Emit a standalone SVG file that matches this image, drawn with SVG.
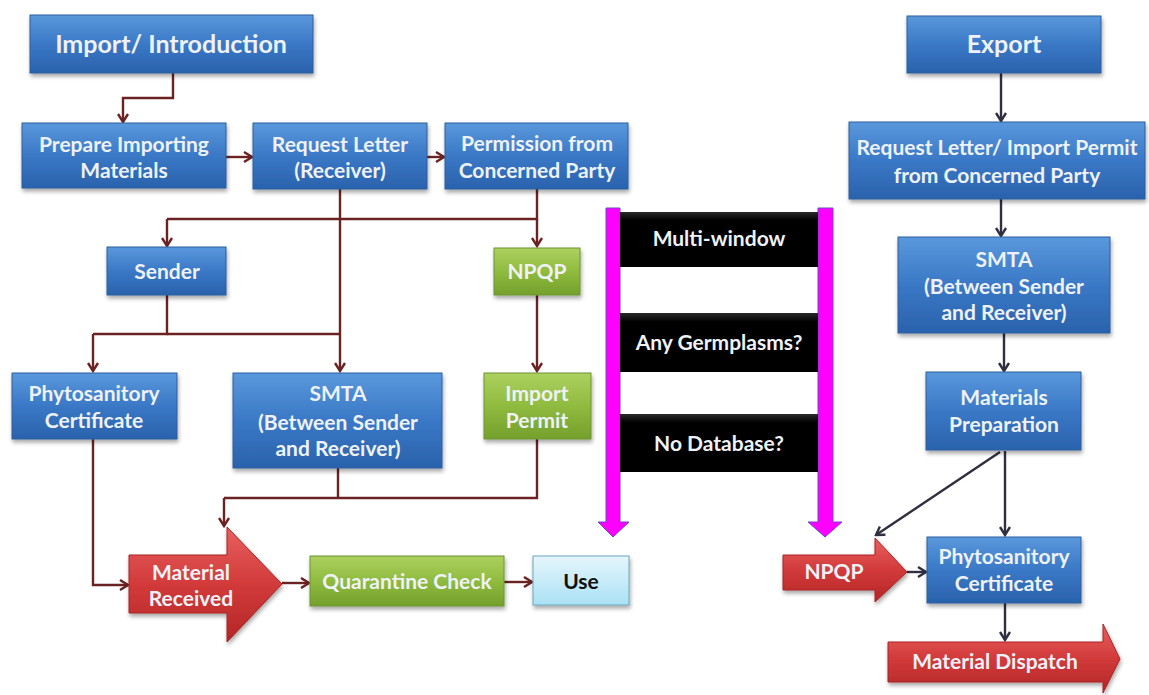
<svg xmlns="http://www.w3.org/2000/svg" width="1149" height="695" viewBox="0 0 1149 695">
  <defs>
    <linearGradient id="gBlue" x1="0" y1="0" x2="0" y2="1">
      <stop offset="0" stop-color="#5a98dc"/>
      <stop offset="0.5" stop-color="#3a78c6"/>
      <stop offset="1" stop-color="#2a62ac"/>
    </linearGradient>
    <linearGradient id="gGreen" x1="0" y1="0" x2="0" y2="1">
      <stop offset="0" stop-color="#add160"/>
      <stop offset="0.5" stop-color="#8fbb3f"/>
      <stop offset="1" stop-color="#74a02c"/>
    </linearGradient>
    <linearGradient id="gRed" x1="0" y1="0" x2="0" y2="1">
      <stop offset="0" stop-color="#e86060"/>
      <stop offset="0.5" stop-color="#d23a3a"/>
      <stop offset="1" stop-color="#b42626"/>
    </linearGradient>
    <linearGradient id="gLight" x1="0" y1="0" x2="0" y2="1">
      <stop offset="0" stop-color="#e6f6fc"/>
      <stop offset="1" stop-color="#a9e1f4"/>
    </linearGradient>
    <linearGradient id="gBlack" x1="0" y1="0" x2="0" y2="1">
      <stop offset="0" stop-color="#2a2a2a"/>
      <stop offset="0.15" stop-color="#000"/>
      <stop offset="1" stop-color="#000"/>
    </linearGradient>
    <filter id="shadow" x="-10%" y="-10%" width="125%" height="135%">
      <feGaussianBlur in="SourceAlpha" stdDeviation="2"/>
      <feOffset dx="1" dy="3" result="b"/>
      <feComponentTransfer><feFuncA type="linear" slope="0.35"/></feComponentTransfer>
      <feMerge><feMergeNode/><feMergeNode in="SourceGraphic"/></feMerge>
    </filter>
    <marker id="arrRed" viewBox="0 0 12 12" refX="10" refY="6" markerWidth="12" markerHeight="12" markerUnits="userSpaceOnUse" orient="auto">
      <path d="M2,1 L10,6 L2,11" fill="none" stroke="#6b2222" stroke-width="2.4"/>
    </marker>
    <marker id="arrDark" viewBox="0 0 12 12" refX="10" refY="6" markerWidth="12" markerHeight="12" markerUnits="userSpaceOnUse" orient="auto">
      <path d="M2,1 L10,6 L2,11" fill="none" stroke="#2f2f40" stroke-width="2.4"/>
    </marker>
    <style>
      .blue { fill: url(#gBlue); stroke: #2d5f9e; stroke-width: 1; filter: url(#shadow); }
      .green { fill: url(#gGreen); stroke: #6d9430; stroke-width: 1; filter: url(#shadow); }
      .red { fill: url(#gRed); stroke: #a82424; stroke-width: 1; filter: url(#shadow); }
      .light { fill: url(#gLight); stroke: #6aa6bf; stroke-width: 1; filter: url(#shadow); }
      .black { fill: url(#gBlack); }
      .bar { fill: #ff00ff; stroke: #6b46c8; stroke-width: 1; }
      text { font-family: Lato, "Open Sans", "Liberation Sans", sans-serif; font-weight: bold; text-anchor: middle; }
      .t { fill: #eef2f8; font-size: 21px; }
      .tt { fill: #eef2f8; font-size: 25px; }
      .td { fill: #111; font-size: 21px; }
      .left { fill: none; stroke: #6b2222; stroke-width: 2.4; marker-end: url(#arrRed); }
      .right { fill: none; stroke: #2f2f40; stroke-width: 2.4; marker-end: url(#arrDark); }
      .plain { fill: none; stroke: #6b2222; stroke-width: 2.4; }
    </style>
  </defs>

  <rect width="1149" height="695" fill="#ffffff"/>

  <!-- connectors -->
  <g id="connectors">
    <path class="left" d="M173,73 V98 H123 V122"/>
    <path class="left" d="M226,157 H252"/>
    <path class="left" d="M427,157 H444"/>
    <path class="plain" d="M537,189 V219 H167"/>
    <path class="left" d="M167,219 V246"/>
    <path class="left" d="M537,219 V246"/>
    <path class="left" d="M340,189 V371"/>
    <path class="plain" d="M167,295 V334 H93"/>
    <path class="left" d="M93,334 V371"/>
    <path class="plain" d="M167,334 H340"/>
    <path class="left" d="M537,295 V371"/>
    <path class="plain" d="M338,468 V498"/>
    <path class="plain" d="M537,439 V498 H224"/>
    <path class="left" d="M224,498 V526"/>
    <path class="left" d="M93,439 V585 H128"/>
    <path class="left" d="M282,583 H309"/>
    <path class="left" d="M504,582 H532"/>
    <path class="right" d="M1001,73 V121"/>
    <path class="right" d="M1001,199 V236"/>
    <path class="right" d="M1004,333 V371"/>
    <path class="right" d="M1005,451 V535"/>
    <path class="right" d="M1000,452 L876,535"/>
    <path class="right" d="M907,572 H926"/>
    <path class="right" d="M1005,603 V640"/>
  </g>

  <!-- import side -->
  <g id="import-introduction">
    <rect class="blue" x="30" y="15" width="283" height="58"/>
    <text class="tt" x="171" y="53">Import/ Introduction</text>
  </g>
  <g id="prepare-importing">
    <rect class="blue" x="22" y="123" width="204" height="65"/>
    <text class="t" x="124" y="152">Prepare Importing</text>
    <text class="t" x="124" y="178">Materials</text>
  </g>
  <g id="request-letter">
    <rect class="blue" x="253" y="123" width="174" height="66"/>
    <text class="t" x="340" y="152">Request Letter</text>
    <text class="t" x="340" y="178">(Receiver)</text>
  </g>
  <g id="permission">
    <rect class="blue" x="445" y="123" width="183" height="66"/>
    <text class="t" x="537" y="151">Permission from</text>
    <text class="t" x="537" y="178">Concerned Party</text>
  </g>
  <g id="sender">
    <rect class="blue" x="107" y="247" width="119" height="48"/>
    <text class="t" x="167" y="279">Sender</text>
  </g>
  <g id="npqp-import">
    <rect class="green" x="494" y="248" width="86" height="47"/>
    <text class="t" x="537" y="279">NPQP</text>
  </g>
  <g id="phyto-import">
    <rect class="blue" x="12" y="373" width="165" height="66"/>
    <text class="t" x="94" y="401">Phytosanitory</text>
    <text class="t" x="94" y="428">Certificate</text>
  </g>
  <g id="smta-import">
    <rect class="blue" x="233" y="373" width="209" height="95"/>
    <text class="t" x="338" y="401">SMTA</text>
    <text class="t" x="338" y="430">(Between Sender</text>
    <text class="t" x="338" y="456">and Receiver)</text>
  </g>
  <g id="import-permit">
    <rect class="green" x="484" y="373" width="107" height="66"/>
    <text class="t" x="537" y="401">Import</text>
    <text class="t" x="537" y="428">Permit</text>
  </g>
  <g id="material-received">
    <path class="red" d="M129,555 H227 V527 L282,584 L227,642 V613 H129 Z"/>
    <text class="t" x="191" y="580">Material</text>
    <text class="t" x="191" y="606">Received</text>
  </g>
  <g id="quarantine-check">
    <rect class="green" x="310" y="556" width="194" height="50"/>
    <text class="t" x="407" y="589">Quarantine Check</text>
  </g>
  <g id="use">
    <rect class="light" x="533" y="556" width="96" height="49"/>
    <text class="td" x="581" y="589">Use</text>
  </g>

  <!-- checklist panel between the two flows -->
  <g id="checklist">
    <path class="bar" d="M606,208 H620 V522 H629 L613,537 L598,522 H606 Z"/>
    <path class="bar" d="M818,208 H833 V522 H842 L825,537 L808,522 H818 Z"/>
    <rect class="black" x="620" y="212" width="198" height="55"/>
    <text class="t" x="719" y="246">Multi-window</text>
    <rect class="black" x="620" y="313" width="198" height="59"/>
    <text class="t" x="719" y="350">Any Germplasms?</text>
    <rect class="black" x="620" y="414" width="198" height="58"/>
    <text class="t" x="719" y="451">No Database?</text>
  </g>

  <!-- export side -->
  <g id="export">
    <rect class="blue" x="907" y="16" width="194" height="57"/>
    <text class="tt" x="1004" y="53">Export</text>
  </g>
  <g id="request-permit">
    <rect class="blue" x="849" y="122" width="296" height="77"/>
    <text class="t" x="997" y="155">Request Letter/ Import Permit</text>
    <text class="t" x="997" y="183">from Concerned Party</text>
  </g>
  <g id="smta-export">
    <rect class="blue" x="898" y="237" width="212" height="96"/>
    <text class="t" x="1004" y="267">SMTA</text>
    <text class="t" x="1004" y="294">(Between Sender</text>
    <text class="t" x="1004" y="320">and Receiver)</text>
  </g>
  <g id="materials-preparation">
    <rect class="blue" x="926" y="372" width="155" height="78"/>
    <text class="t" x="1004" y="405">Materials</text>
    <text class="t" x="1004" y="432">Preparation</text>
  </g>
  <g id="npqp-export">
    <path class="red" d="M783,555 H875 V538 L907,572 L875,602 V590 H783 Z"/>
    <text class="t" x="834" y="579">NPQP</text>
  </g>
  <g id="phyto-export">
    <rect class="blue" x="927" y="537" width="154" height="66"/>
    <text class="t" x="1004" y="564">Phytosanitory</text>
    <text class="t" x="1004" y="591">Certificate</text>
  </g>
  <g id="material-dispatch">
    <path class="red" d="M888,642 H1103 V624 L1120,659 L1103,693 V682 H888 Z"/>
    <text class="t" x="995" y="669">Material Dispatch</text>
  </g>
</svg>
